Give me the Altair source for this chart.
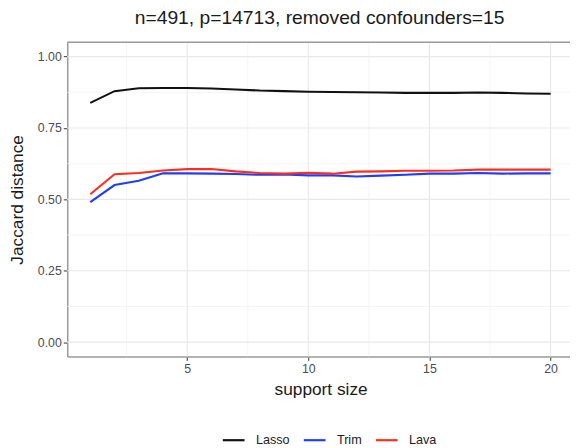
import altair as alt
import pandas as pd

support = list(range(1, 21))
lasso = [0.838, 0.879, 0.889, 0.890, 0.890, 0.888, 0.885, 0.881, 0.879, 0.877,
         0.876, 0.875, 0.874, 0.873, 0.873, 0.873, 0.874, 0.873, 0.871, 0.870]
trim = [0.490, 0.550, 0.565, 0.591, 0.591, 0.590, 0.589, 0.586, 0.587, 0.584,
        0.584, 0.580, 0.583, 0.586, 0.590, 0.590, 0.592, 0.590, 0.591, 0.591]
lava = [0.518, 0.588, 0.592, 0.601, 0.606, 0.606, 0.598, 0.592, 0.590, 0.593,
        0.590, 0.597, 0.598, 0.600, 0.600, 0.601, 0.604, 0.604, 0.604, 0.604]
methods = ["Lasso", "Trim", "Lava"]
colors = ["#111111", "#1f3dff", "#ff2e1c"]

x_major = [5, 10, 15, 20]
x_minor = [2.5, 7.5, 12.5, 17.5]
y_major = [0, 0.25, 0.5, 0.75, 1.0]
y_minor = [0.125, 0.375, 0.625, 0.875]

rows = []
for name, vals in zip(methods, [lasso, trim, lava]):
    for s, v in zip(support, vals):
        rows.append({"support": s, "value": v, "method": name})
df = pd.DataFrame(rows)

W, H = 509, 318
FONT = "Liberation Sans"

xscale = alt.Scale(domain=[0.05, 20.8], nice=False, zero=False)
yscale = alt.Scale(domain=[-0.05, 1.05], nice=False, zero=False)

def vgrid(vals, color, width):
    return alt.Chart(pd.DataFrame({"g": vals})).mark_rule(color=color, strokeWidth=width).encode(
        x=alt.X("g:Q", scale=xscale, axis=None))

def hgrid(vals, color, width):
    return alt.Chart(pd.DataFrame({"g": vals})).mark_rule(color=color, strokeWidth=width).encode(
        y=alt.Y("g:Q", scale=yscale, axis=None))

grids = (vgrid(x_minor, "#f2f2f2", 0.8) + hgrid(y_minor, "#f2f2f2", 0.8)
         + vgrid(x_major, "#e8e8e8", 1.1) + hgrid(y_major, "#e8e8e8", 1.1))

top_border = alt.Chart(pd.DataFrame({"a": [0]})).mark_rule(color="#9a9a9a", strokeWidth=1.5).encode(
    x=alt.value(0), x2=alt.value(W), y=alt.value(0))

lines = alt.Chart(df).mark_line(strokeWidth=2.1).encode(
    x=alt.X("support:Q", scale=xscale,
            axis=alt.Axis(orient="bottom", values=x_major, grid=False, title="support size",
                          titleX=256.5, titleY=34, titleBaseline="middle",
                          titleAlign="center")),
    y=alt.Y("value:Q", scale=yscale,
            axis=alt.Axis(orient="left", values=y_major, format=".2f", grid=False,
                          title="Jaccard distance",
                          titleX=-50, titleY=H / 2, titleBaseline="middle",
                          titleAlign="center", titleAngle=-90)),
    color=alt.Color("method:N", sort=methods,
                    scale=alt.Scale(domain=methods, range=colors),
                    legend=alt.Legend(title=None, orient="none", direction="horizontal",
                                      legendX=156, legendY=390, symbolType="stroke",
                                      symbolSize=484, symbolStrokeWidth=2.2,
                                      labelOffset=10, columnPadding=9, padding=0,
                                      labelFontSize=12.8, labelColor="#222222",
                                      labelFont=FONT)),
    detail="method:N",
)

chart = (grids + top_border + lines).resolve_axis(
    x="independent", y="independent"
).properties(
    width=W, height=H,
    background="white",
    title=alt.TitleParams("n=491, p=14713, removed confounders=15", fontSize=19.5,
                          font=FONT, fontWeight="normal", color="#1a1a1a",
                          anchor="middle", frame="group", offset=13, dx=1),
    autosize=alt.AutoSizeParams(type="none"),
    padding={"left": 60, "top": 32, "right": 0, "bottom": 90},
).configure_view(stroke=None).configure_axis(
    domainColor="#9a9a9a", domainWidth=1.5, tickColor="#333333", tickWidth=1, tickSize=4,
    labelColor="#4d4d4d", labelFontSize=12.5, labelFont=FONT, labelPadding=2,
    titleFont=FONT, titleFontSize=17.5, titleFontWeight="normal", titleColor="#1a1a1a",
)

chart.save("out.html", embed_options={"renderer": "svg", "actions": False})
